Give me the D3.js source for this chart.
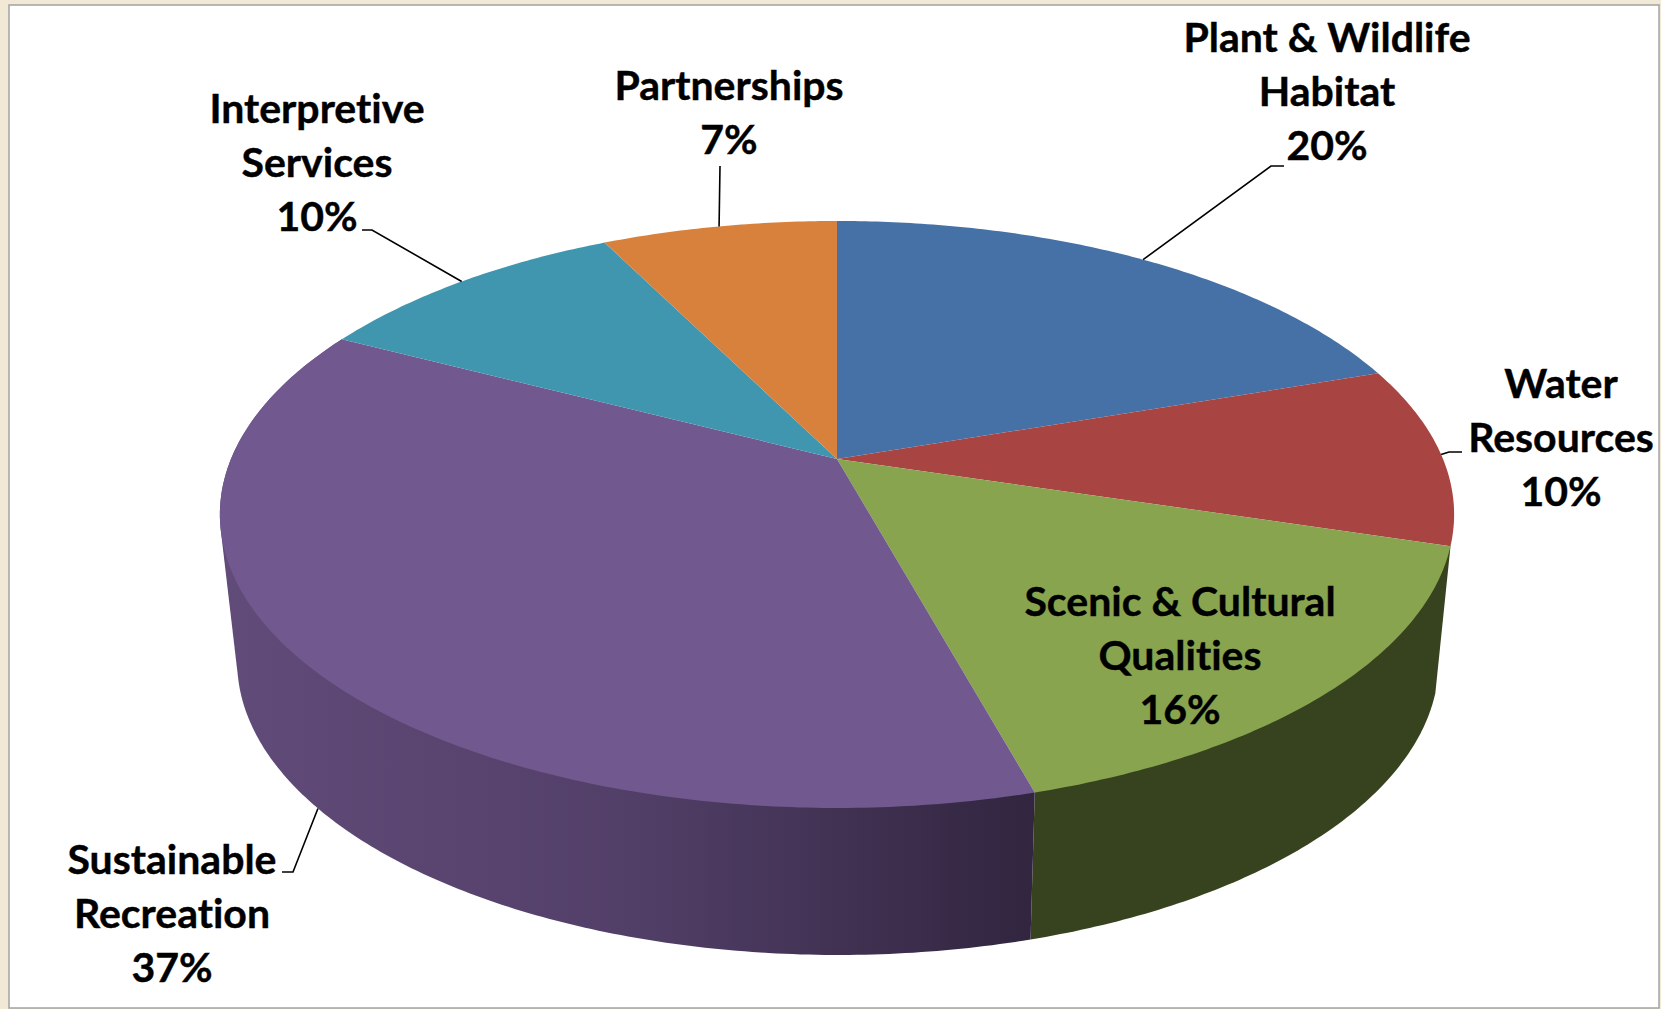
<!DOCTYPE html>
<html>
<head>
<meta charset="utf-8">
<script src="https://cdn.jsdelivr.net/npm/d3@7"></script>
<style>
    html, body { margin: 0; padding: 0; background: #f2e8d6; }
    svg { display: block; }
    .label {
        font-family: Lato, sans-serif;
        font-weight: 700;
        font-size: 41px;
        font-variant-ligatures: none;
        fill: #000;
        stroke: #000;
        stroke-width: 0.4px;
        text-anchor: middle;
    }
</style>
</head>
<body>
<svg id="chart" width="1661" height="1009"></svg>
<script>
const categories = [
    'Plant & Wildlife Habitat',
    'Water Resources',
    'Scenic & Cultural Qualities',
    'Sustainable Recreation',
    'Interpretive Services',
    'Partnerships',
];
const values = [19.8, 9.9, 16.0, 36.9, 10.0, 7.4];
const labelLines = [
    ['Plant & Wildlife', 'Habitat'],
    ['Water', 'Resources'],
    ['Scenic & Cultural', 'Qualities'],
    ['Sustainable', 'Recreation'],
    ['Interpretive', 'Services'],
    ['Partnerships'],
];
const topColors = ['#4571a6', '#a84543', '#88a44e', '#71588f', '#4096ae', '#d8813c'];
// only these two sides show past the top face
const sideColors = [null, null, '#37421f', 'url(#purpleSide)', null, null];

// label centre and first baseline
const labelPos = [
    { x: 1327, y: 52 },
    { x: 1561, y: 398 },
    { x: 1180, y: 616 },
    { x: 172, y: 874 },
    { x: 317, y: 123 },
    { x: 729, y: 100 },
];
// leader: text end, elbow, and whether it lands on the lower rim
const leaders = [
    { from: [1284, 166], elbow: [1271, 166] },
    { from: [1462, 452], elbow: [1449, 452] },
    null,
    { from: [282, 872], elbow: [293, 872], lower: true },
    { from: [362, 230], elbow: [372, 230] },
    { from: [720, 166], elbow: [720, 166] },
];

const lineHeight = 54;
const frame = { left: 9, top: 5, right: 1659, bottom: 1008 };

// perspective: the disc is a circle seen from the front, so the apex sits above the ellipse centre
const tilt = 0.189;
const upper = { x: 837, y: 459, r: 606, b: 283 };
const lower = { x: 838, y: 606, r: 590, b: 283 };

function project(disc, angle) {
    const u = Math.sin(angle);
    const v = -Math.cos(angle);
    const w = 1 - tilt * v;

    return [disc.x + (disc.r * u) / w, disc.y + (disc.b * v) / w];
}

function rim(disc, start, end) {
    const steps = Math.max(2, Math.ceil((end - start) * 90));

    return d3.range(steps + 1).map(i => project(disc, start + ((end - start) * i) / steps));
}

const svg = d3.select('#chart');
const line = d3.line();

const arcs = d3.pie().sort(null)(values);

const defs = svg.append('defs');
const gradient = defs
    .append('linearGradient')
    .attr('id', 'purpleSide')
    .attr('gradientUnits', 'userSpaceOnUse')
    .attr('x1', 228)
    .attr('x2', 1034)
    .attr('y1', 0)
    .attr('y2', 0);
gradient.append('stop').attr('offset', 0).attr('stop-color', '#614b79');
gradient.append('stop').attr('offset', 0.5).attr('stop-color', '#523f68');
gradient.append('stop').attr('offset', 1).attr('stop-color', '#31253f');

svg.append('rect')
    .attr('x', frame.left)
    .attr('y', frame.top)
    .attr('width', frame.right - frame.left)
    .attr('height', frame.bottom - frame.top)
    .attr('fill', '#fff')
    .attr('stroke', '#a3a3a3')
    .attr('stroke-width', 1.5);

// sides first, then the top faces over them. Hull keeps the outline tangent between the two rims
svg.append('g')
    .selectAll('path')
    .data(arcs.filter((d, i) => sideColors[i]))
    .join('path')
    .attr('fill', d => sideColors[d.index])
    .attr('d', d => {
        const top = rim(upper, d.startAngle, d.endAngle);
        const bottom = rim(lower, d.startAngle, d.endAngle);

        return `${line(d3.polygonHull(top.concat(bottom)))}Z`;
    });

svg.append('g')
    .selectAll('path')
    .data(arcs)
    .join('path')
    .attr('fill', (d, i) => topColors[i])
    .attr('d', d => `${line([[upper.x, upper.y], ...rim(upper, d.startAngle, d.endAngle)])}Z`);

svg.append('g')
    .selectAll('path')
    .data(arcs.filter((d, i) => leaders[i]))
    .join('path')
    .attr('fill', 'none')
    .attr('stroke', '#000')
    .attr('stroke-width', 1.6)
    .attr('d', d => {
        const leader = leaders[d.index];
        const mid = (d.startAngle + d.endAngle) / 2;
        const end = project(leader.lower ? lower : upper, mid);

        return line([leader.from, leader.elbow, end]);
    });

const labels = svg
    .append('g')
    .selectAll('text')
    .data(categories)
    .join('text')
    .attr('class', 'label')
    .attr('data-category', d => d);

labels
    .selectAll('tspan')
    .data((d, i) => [...labelLines[i], `${Math.round(values[i])}%`].map(text => ({ text, i })))
    .join('tspan')
    .attr('x', d => labelPos[d.i].x)
    .attr('y', (d, k) => labelPos[d.i].y + k * lineHeight)
    .text(d => d.text);
</script>
</body>
</html>
